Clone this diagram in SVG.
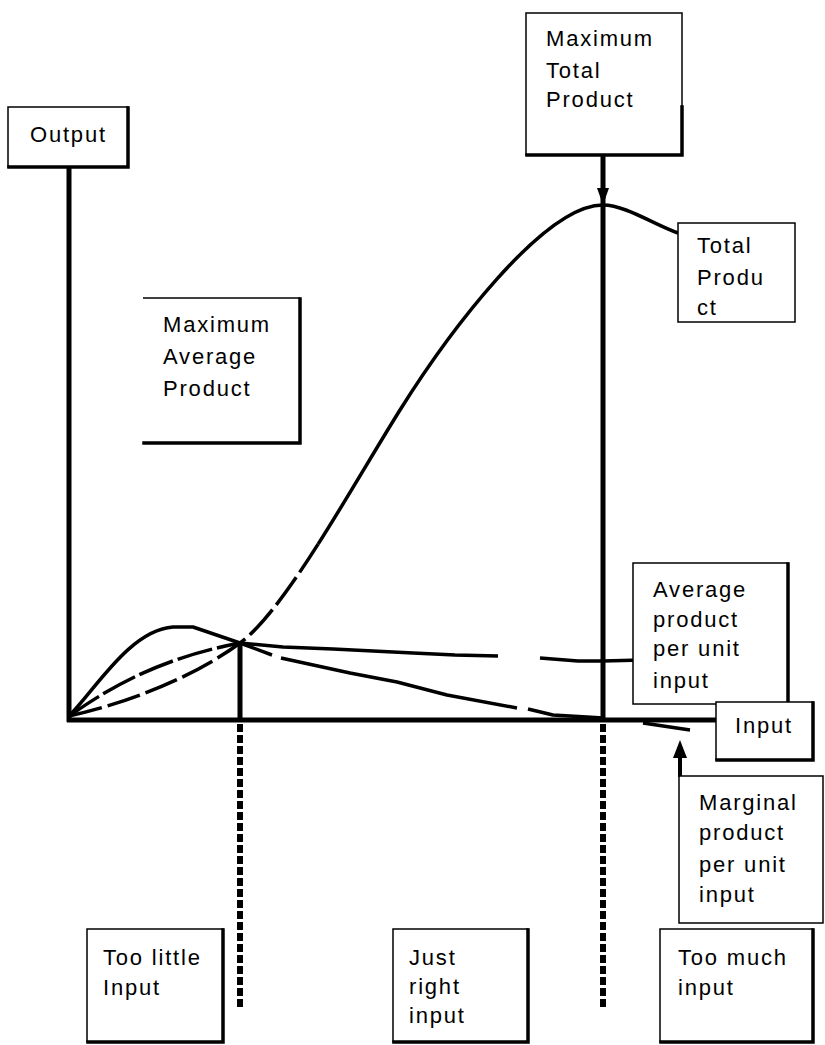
<svg xmlns="http://www.w3.org/2000/svg" width="825" height="1045" viewBox="0 0 825 1045">
<style>
  .bg{fill:#fff}
  .box{fill:#fff;stroke:#000;stroke-width:1.5}
  .sh{fill:none;stroke:#000;stroke-width:3.5;stroke-linecap:square}
  .lbl{font-family:"Liberation Sans",Arial,sans-serif;font-size:22px;letter-spacing:1.8px;fill:#000}
  .axis{stroke:#000;stroke-width:5;fill:none}
  .curve{stroke:#000;stroke-width:3.5;fill:none;stroke-linejoin:round;stroke-linecap:butt}
  .vdash{stroke:#000;stroke-width:6;fill:none;stroke-dasharray:8 3}
  .thin{stroke:#000;stroke-width:1.5;fill:none}
</style>
<rect class="bg" x="0" y="0" width="825" height="1045"/>

<g id="connectors">
  <!-- axes -->
  <line class="axis" x1="69" y1="167" x2="69" y2="722"/>
  <line class="axis" x1="67" y1="720" x2="716" y2="720"/>
  <!-- Total product curve -->
  <path class="curve" d="M69,716 C120,705 190,680 240,643 C262.5,626.5 290,588.25 318.1,544.1" stroke-dasharray="34 6"/>
  <path class="curve" d="M318.1,544.1 C346.25,500 375,450 400,410 C447,335 543,205 603,205 C625,205 655,225 678,233"/>
  <!-- Average product curve -->
  <path class="curve" d="M69,716 C100,695 150,660 240,643" stroke-dasharray="36 5"/>
  <path class="curve" d="M240,643 L283,647 L333,649 L373,651 L413,653 L455,655 L498,656"/>
  <path class="curve" d="M540,658 L578,661 L603,661 L642,660"/>
  <!-- Marginal product curve -->
  <path class="curve" d="M69,716 C95,690 130,630 173,627 L193,627 L240,643 L272,655"/>
  <path class="curve" d="M281,658 L350,673 L397,682 L447,695 L517,708"/>
  <path class="curve" d="M528,709 L553,715 L587,717 L603,718"/>
  <path class="curve" d="M643,723 L690,730"/>
  <!-- verticals -->
  <line class="axis" x1="240" y1="643" x2="240" y2="720"/>
  <line class="vdash" x1="240" y1="724" x2="240" y2="1007"/>
  <line class="thin" x1="603" y1="127" x2="603" y2="155"/>
  <line class="axis" x1="603" y1="155" x2="603" y2="720"/>
  <polygon points="597,188 609,188 603,205" fill="#000"/>
  <line class="vdash" x1="603" y1="724" x2="603" y2="1007"/>
  <!-- marginal arrow -->
  <line x1="680" y1="756" x2="680" y2="777" stroke="#000" stroke-width="4"/>
  <polygon points="680,740 673,758 687,758" fill="#000"/>
</g>

<g id="node-output">
  <rect class="box" x="8" y="107" width="120" height="60"/>
  <path class="sh" d="M128,108 V167 H9"/>
  <text class="lbl" x="30" y="142">Output</text>
</g>

<g id="node-max-total">
  <rect class="box" x="526" y="13" width="156" height="142"/>
  <path class="sh" d="M682,107 V155 H527"/>
  <text class="lbl" x="546" y="46">Maximum</text>
  <text class="lbl" x="546" y="78">Total</text>
  <text class="lbl" x="546" y="107">Product</text>
</g>

<g id="node-max-average">
  <path class="thin" d="M143,298 H300"/>
  <path class="sh" d="M300,299 V443 H144"/>
  <text class="lbl" x="163" y="332">Maximum</text>
  <text class="lbl" x="163" y="364">Average</text>
  <text class="lbl" x="163" y="396">Product</text>
</g>

<g id="node-total-product">
  <rect class="box" x="678" y="223" width="117" height="99" stroke-width="2"/>
  <text class="lbl" x="697" y="253">Total</text>
  <text class="lbl" x="697" y="285">Produ</text>
  <text class="lbl" x="697" y="315">ct</text>
</g>

<g id="node-average-product">
  <rect class="box" x="633" y="563" width="155" height="141"/>
  <path class="sh" d="M788,564 V703"/>
  <text class="lbl" x="653" y="597">Average</text>
  <text class="lbl" x="653" y="627">product</text>
  <text class="lbl" x="653" y="656">per unit</text>
  <text class="lbl" x="653" y="688">input</text>
</g>

<g id="node-input">
  <rect class="box" x="716" y="702" width="97" height="58"/>
  <path class="sh" d="M813,703 V760 H717"/>
  <text class="lbl" x="735" y="733">Input</text>
</g>

<g id="node-marginal">
  <rect class="box" x="679" y="776" width="144" height="147"/>
  <text class="lbl" x="699" y="810">Marginal</text>
  <text class="lbl" x="699" y="840">product</text>
  <text class="lbl" x="699" y="872">per unit</text>
  <text class="lbl" x="699" y="902">input</text>
</g>

<g id="node-too-little">
  <rect class="box" x="87" y="929" width="136" height="113"/>
  <path class="sh" d="M223,930 V1042 H88"/>
  <text class="lbl" x="103" y="965">Too little</text>
  <text class="lbl" x="103" y="995">Input</text>
</g>

<g id="node-just-right">
  <rect class="box" x="393" y="929" width="135" height="113"/>
  <path class="sh" d="M528,930 V1042 H394"/>
  <text class="lbl" x="409" y="965">Just</text>
  <text class="lbl" x="409" y="994">right</text>
  <text class="lbl" x="409" y="1023">input</text>
</g>

<g id="node-too-much">
  <rect class="box" x="660" y="929" width="153" height="113"/>
  <path class="sh" d="M813,930 V1042 H661"/>
  <text class="lbl" x="678" y="965">Too much</text>
  <text class="lbl" x="678" y="995">input</text>
</g>
</svg>
